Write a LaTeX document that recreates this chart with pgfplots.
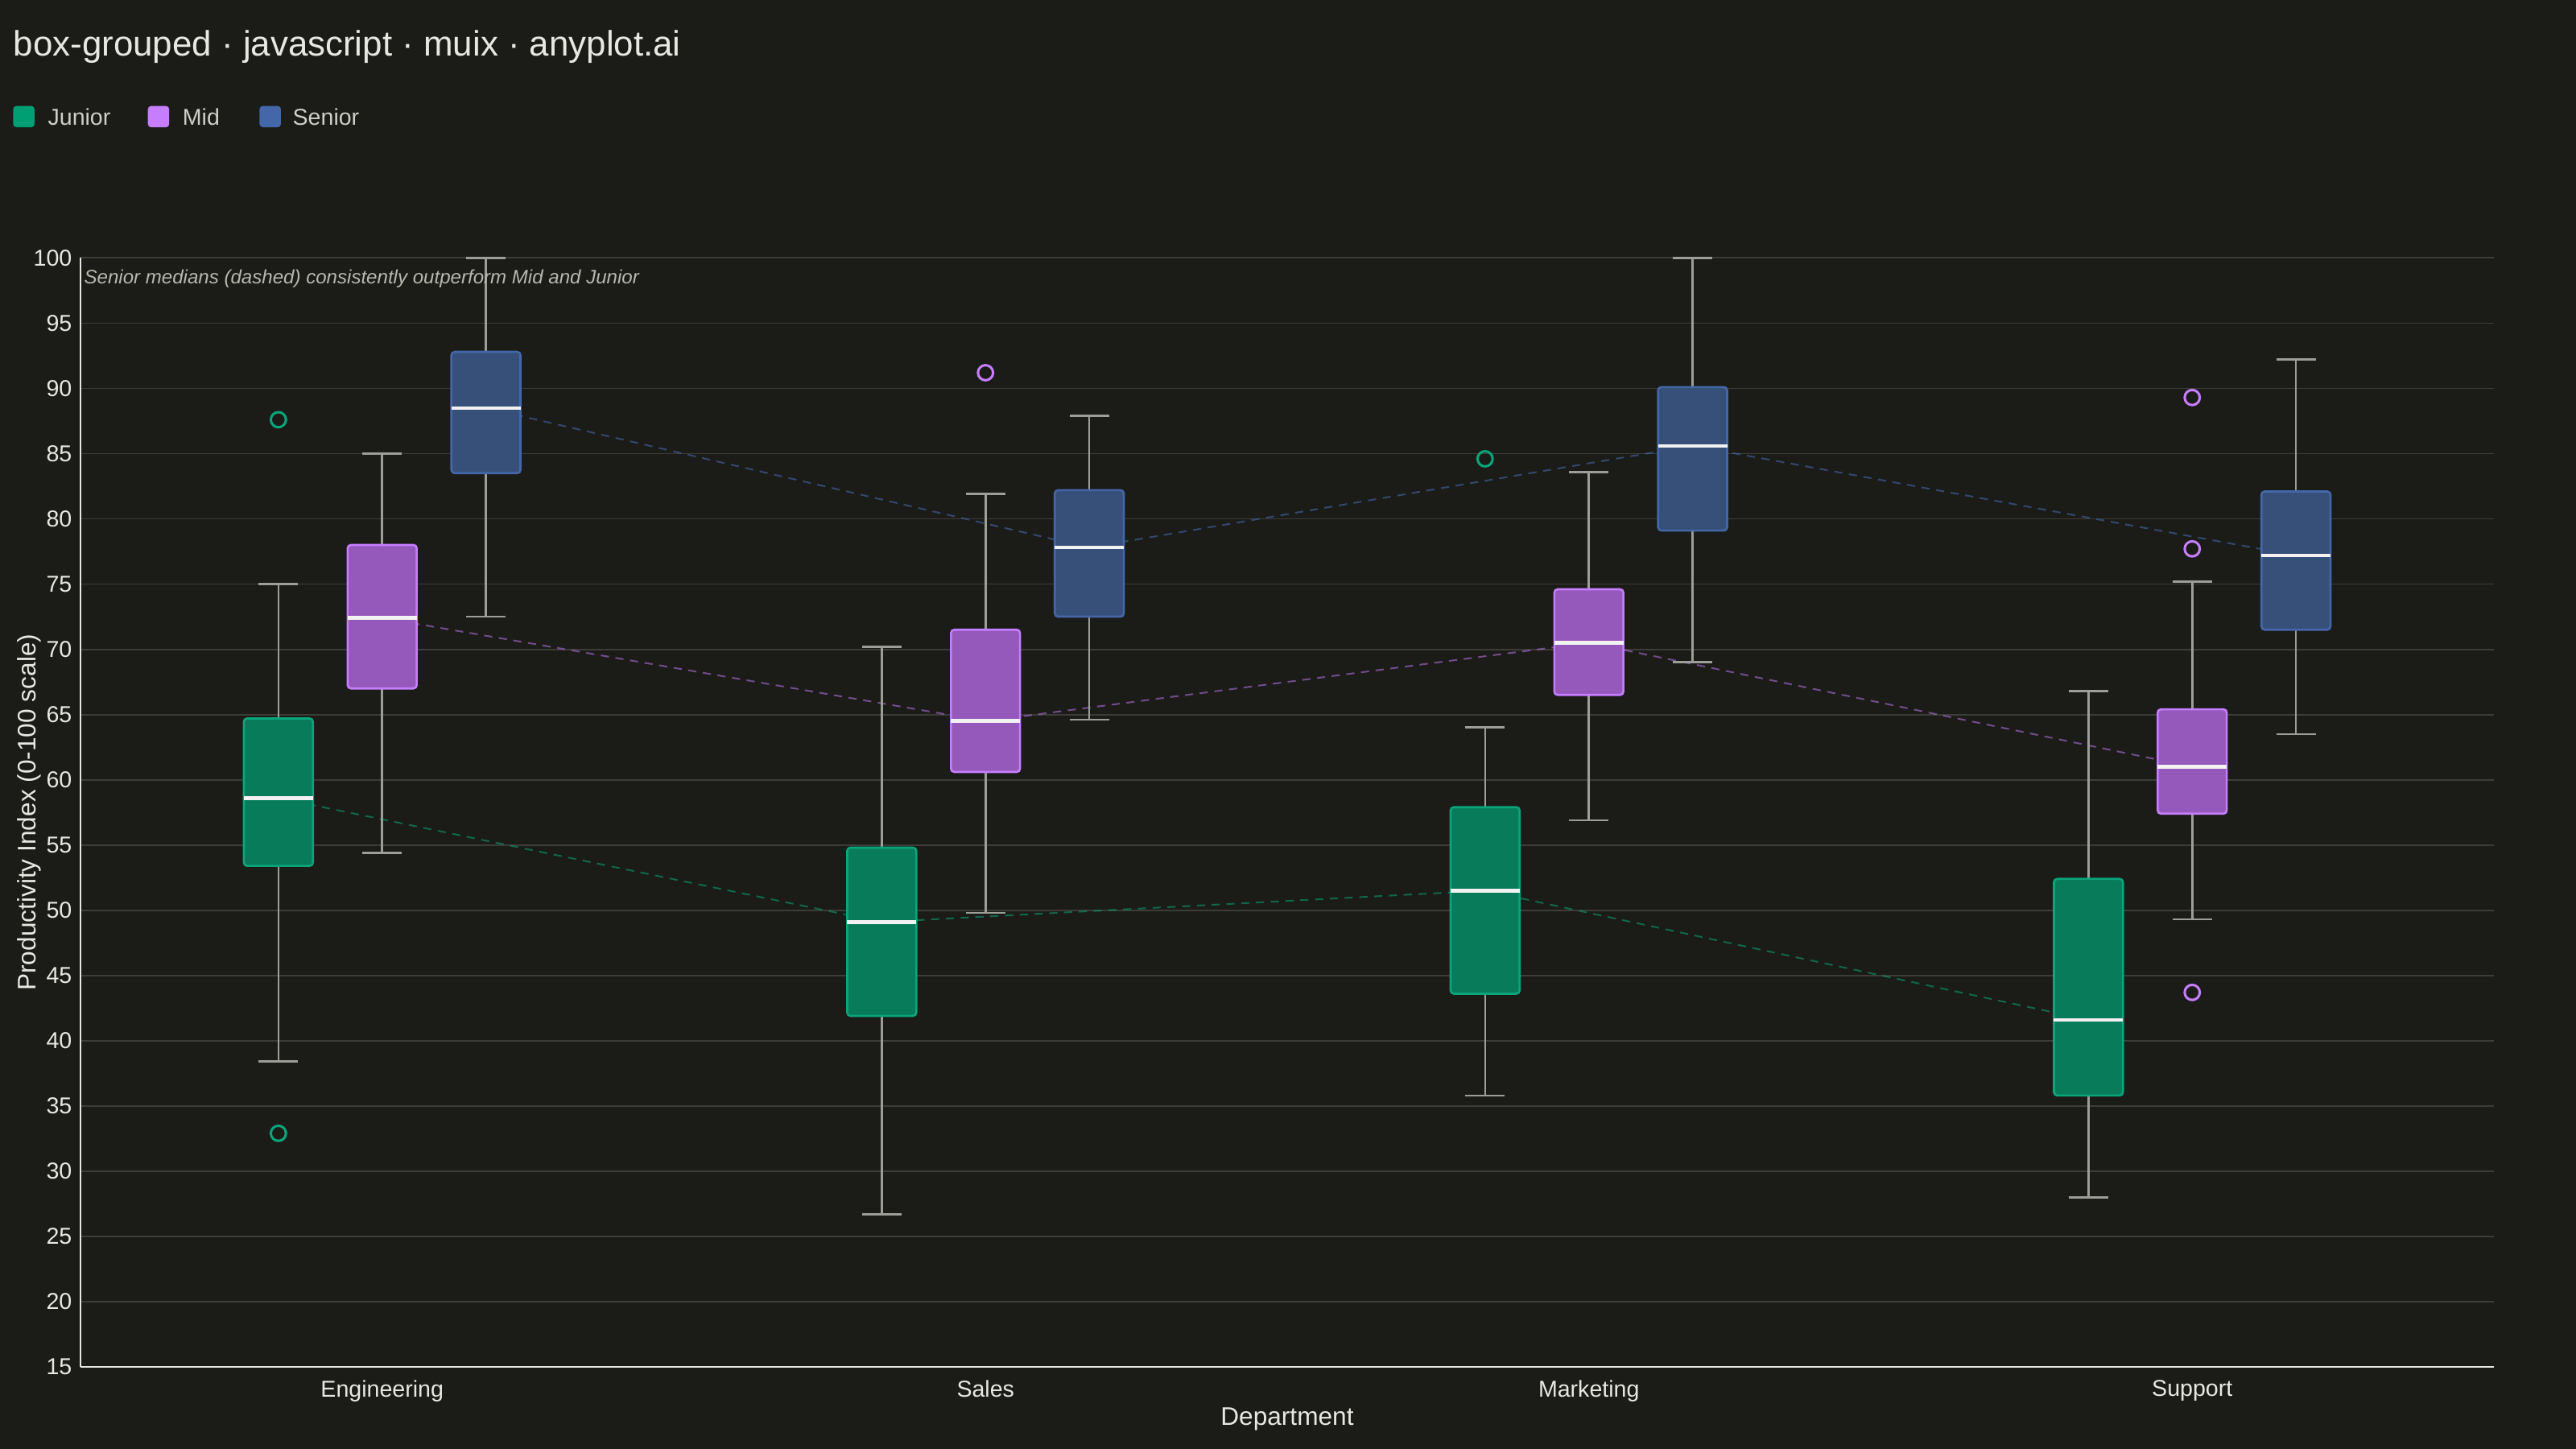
\documentclass[border=0pt]{standalone}
\usepackage{fontspec}
\setmainfont{Liberation Sans}
\usepackage{pgfplots}
\pgfplotsset{compat=1.18}
\usepgfplotslibrary{statistics}
\definecolor{bg}{HTML}{1B1B17}
\definecolor{gridc}{HTML}{3C3C38}
\definecolor{axc}{HTML}{E6E6E0}
\definecolor{labc}{HTML}{E8E8E2}
\definecolor{legc}{HTML}{CFCFC8}
\definecolor{annc}{HTML}{B8B8B0}
\definecolor{whisk}{HTML}{9E9E98}
\definecolor{jedge}{HTML}{0AA57A}
\definecolor{jfill}{HTML}{077B5A}
\definecolor{jleg}{HTML}{009E73}
\definecolor{medge}{HTML}{C77DFF}
\definecolor{mfill}{HTML}{9559BB}
\definecolor{sedge}{HTML}{4467A9}
\definecolor{sfill}{HTML}{37507A}
\pgfplotsset{
  common/.style={
    boxplot/draw direction=y,
    boxplot/every median/.style={draw=white!95!black, line width=2.2pt},
    boxplot/every whisker/.style={draw=whisk, line width=1.3pt},
    boxplot/box extend=1.144,
    boxplot/whisker extend=0.65,
    mark size=4.6pt,
  },
  junior/.style={common, draw=jedge, mark=o, mark options={draw=jedge, line width=1.5pt, fill=none, solid},
    boxplot/every box/.style={draw=jedge, fill=jfill, line width=1.3pt, rounded corners=2pt}},
  mid/.style={common, draw=medge, mark=o, mark options={draw=medge, line width=1.5pt, fill=none, solid},
    boxplot/every box/.style={draw=medge, fill=mfill, line width=1.3pt, rounded corners=2pt}},
  senior/.style={common, draw=sedge, mark=o, mark options={draw=sedge, line width=1.5pt, fill=none, solid},
    boxplot/every box/.style={draw=sedge, fill=sfill, line width=1.3pt, rounded corners=2pt}},
}
\begin{document}
\begin{tikzpicture}
\useasboundingbox (0pt,0pt) rectangle (1568pt,882pt);
\fill[bg] (0pt,0pt) rectangle (1568pt,882pt);
\node[anchor=base west, inner sep=0pt, text=labc, font=\fontsize{21.5}{21.5}\selectfont] at (8pt,848pt) {box-grouped · javascript · muix · anyplot.ai};
% legend
\fill[jleg, rounded corners=2pt] (8pt,804.5pt) rectangle (21pt,817.5pt);
\node[anchor=base west, inner sep=0pt, text=legc, font=\fontsize{14}{14}\selectfont] at (29pt,806pt) {Junior};
\fill[medge, rounded corners=2pt] (90pt,804.5pt) rectangle (103pt,817.5pt);
\node[anchor=base west, inner sep=0pt, text=legc, font=\fontsize{14}{14}\selectfont] at (111pt,806pt) {Mid};
\fill[sedge, rounded corners=2pt] (158pt,804.5pt) rectangle (171pt,817.5pt);
\node[anchor=base west, inner sep=0pt, text=legc, font=\fontsize{14}{14}\selectfont] at (178pt,806pt) {Senior};
\begin{axis}[
  at={(49pt,50pt)}, anchor=south west,
  scale only axis, width=1469pt, height=675pt,
  xmin=-5, xmax=35, ymin=15, ymax=100,
  xtick={0,10,20,30}, xticklabels={Engineering,Sales,Marketing,Support},
  ytick={15,20,...,100},
  axis x line*=bottom, axis y line*=left,
  axis line style={draw=axc, line width=1pt, -},
  major tick length=0pt,
  ymajorgrids, major grid style={draw=gridc, line width=0.9pt},
  /pgf/number format/assume math mode=true,
  yticklabel style={inner sep=0pt, xshift=-5pt, text=labc, font=\fontsize{14}{14}\selectfont},
  xticklabel style={inner sep=0pt, yshift=-8pt, text=labc, font=\fontsize{14}{14}\selectfont},
  xlabel={Department}, ylabel={Productivity Index (0-100 scale)},
  xlabel style={at={(axis description cs:0.5,-0.0474)}, anchor=center, inner sep=0pt, text=labc, font=\fontsize{15.5}{15.5}\selectfont},
  ylabel style={at={(axis description cs:-0.0211,0.5)}, anchor=center, inner sep=0pt, text=labc, font=\fontsize{15.5}{15.5}\selectfont},
  clip=false,
]
% dashed median trend lines
\addplot[jedge, opacity=0.55, line width=1pt, dash pattern=on 5pt off 4pt] coordinates {(-1.72,58.6) (8.28,49.1) (18.28,51.5) (28.28,41.6)};
\addplot[medge, opacity=0.5, line width=1pt, dash pattern=on 5pt off 4pt] coordinates {(0,72.4) (10,64.5) (20,70.5) (30,61.0)};
\addplot[sedge, opacity=0.6, line width=1pt, dash pattern=on 5pt off 4pt] coordinates {(1.72,88.5) (11.72,77.8) (21.72,85.6) (31.72,77.2)};
% Engineering
\addplot[junior, boxplot prepared={draw position=-1.72, lower whisker=38.4, lower quartile=53.4, median=58.6, upper quartile=64.7, upper whisker=75.0}] table[row sep=\\, y index=0] {y\\ 87.6\\ 32.9\\};
\addplot[mid, boxplot prepared={draw position=0, lower whisker=54.4, lower quartile=67.0, median=72.4, upper quartile=78.0, upper whisker=85.0}] coordinates {};
\addplot[senior, boxplot prepared={draw position=1.72, lower whisker=72.5, lower quartile=83.5, median=88.5, upper quartile=92.8, upper whisker=100.0}] coordinates {};
% Sales
\addplot[junior, boxplot prepared={draw position=8.28, lower whisker=26.7, lower quartile=41.9, median=49.1, upper quartile=54.8, upper whisker=70.2}] coordinates {};
\addplot[mid, boxplot prepared={draw position=10, lower whisker=49.8, lower quartile=60.6, median=64.5, upper quartile=71.5, upper whisker=81.9}] table[row sep=\\, y index=0] {y\\ 91.2\\};
\addplot[senior, boxplot prepared={draw position=11.72, lower whisker=64.6, lower quartile=72.5, median=77.8, upper quartile=82.2, upper whisker=87.9}] coordinates {};
% Marketing
\addplot[junior, boxplot prepared={draw position=18.28, lower whisker=35.8, lower quartile=43.6, median=51.5, upper quartile=57.9, upper whisker=64.0}] table[row sep=\\, y index=0] {y\\ 84.6\\};
\addplot[mid, boxplot prepared={draw position=20, lower whisker=56.9, lower quartile=66.5, median=70.5, upper quartile=74.6, upper whisker=83.6}] coordinates {};
\addplot[senior, boxplot prepared={draw position=21.72, lower whisker=69.0, lower quartile=79.1, median=85.6, upper quartile=90.1, upper whisker=100.0}] coordinates {};
% Support
\addplot[junior, boxplot prepared={draw position=28.28, lower whisker=28.0, lower quartile=35.8, median=41.6, upper quartile=52.4, upper whisker=66.8}] coordinates {};
\addplot[mid, boxplot prepared={draw position=30, lower whisker=49.3, lower quartile=57.4, median=61.0, upper quartile=65.4, upper whisker=75.2}] table[row sep=\\, y index=0] {y\\ 89.3\\ 77.7\\ 43.7\\};
\addplot[senior, boxplot prepared={draw position=31.72, lower whisker=63.5, lower quartile=71.5, median=77.2, upper quartile=82.1, upper whisker=92.2}] coordinates {};
\node[anchor=west, inner sep=0pt, text=annc, font=\itshape\fontsize{11.8}{11.8}\selectfont] at (axis description cs:0.0014,0.981) {Senior medians (dashed) consistently outperform Mid and Junior};
\end{axis}
\end{tikzpicture}
\end{document}
